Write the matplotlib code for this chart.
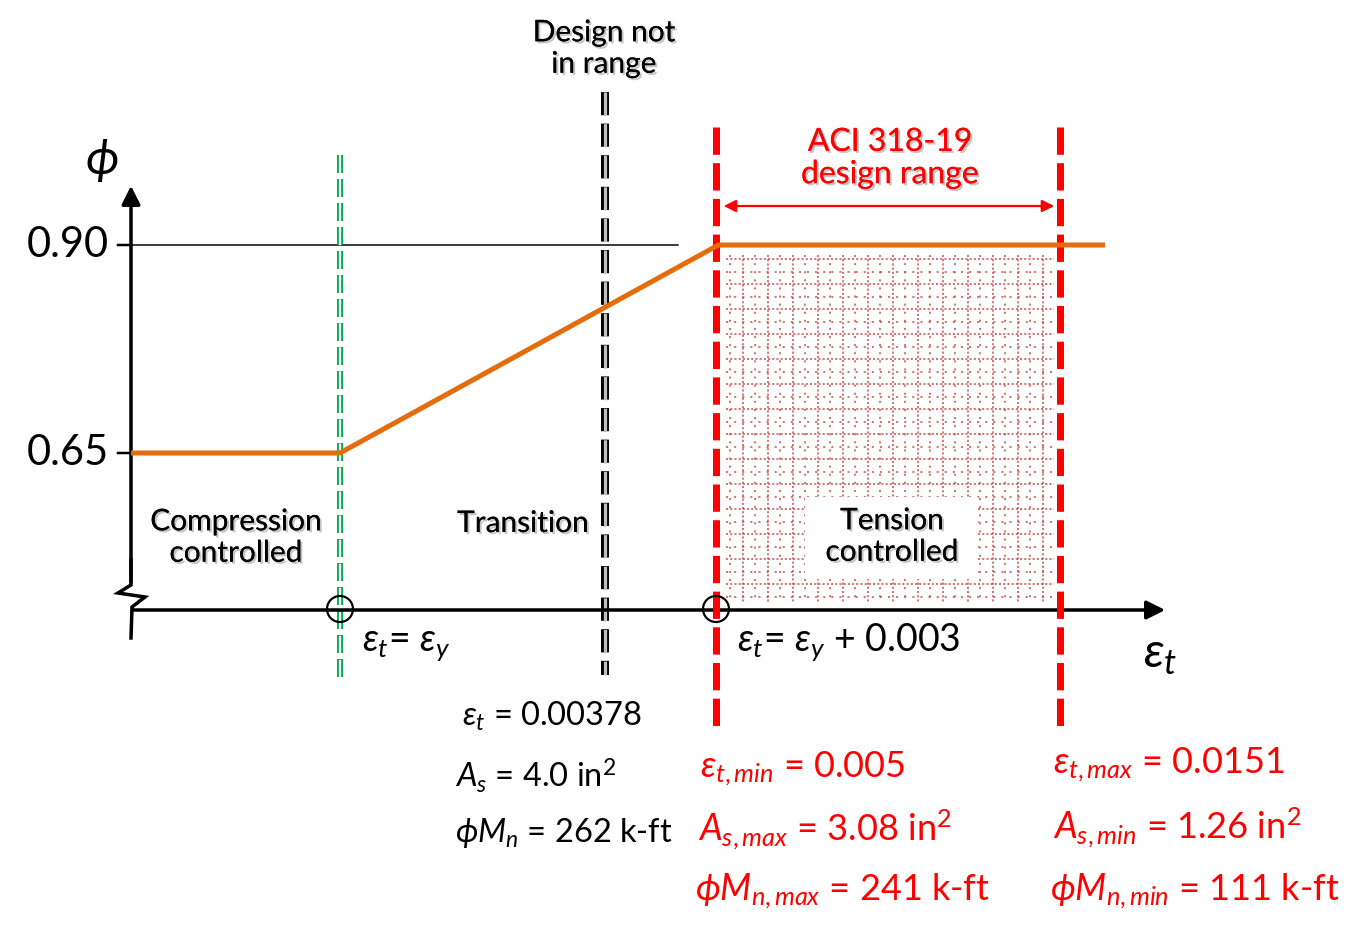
import numpy as np
import matplotlib.pyplot as plt
from matplotlib import patheffects as pe
from matplotlib.patches import FancyArrowPatch, Circle, Rectangle

plt.rcParams['font.family'] = ['Lato', 'DejaVu Sans']
plt.rcParams['mathtext.fontset'] = 'custom'
plt.rcParams['mathtext.rm'] = 'Lato'
plt.rcParams['mathtext.it'] = 'Lato:italic'
plt.rcParams['mathtext.fallback'] = 'stixsans'

# ---- data ----
phi_ticks = [0.65, 0.90]
phi_tick_labels = ['0.65', '0.90']
eps_y = 0.00207            # yield strain
eps_tc = eps_y + 0.003     # tension-controlled limit
eps_design = 0.00378       # design not in range
eps_min, eps_max = 0.005, 0.0151
eps_end = 0.0175
curve_eps = [0.0, eps_y, eps_tc, eps_end]
curve_phi = [0.65, 0.65, 0.90, 0.90]

# schematic (not to scale) strain axis
scale_eps = [0.0, eps_y, eps_design, eps_min, eps_max, eps_end]
scale_px = [131, 340, 605, 716, 1060, 1105]


def ex(e):
    return np.interp(e, scale_eps, scale_px)


def py(phi):
    return 245 + (0.90 - np.asarray(phi)) * 832


RED = '#FF0000'
ORANGE = '#E46C0A'
GREEN = '#00B050'
shadow = [pe.withSimplePatchShadow(offset=(1.5, -1.5), shadow_rgbFace='gray', alpha=0.45), pe.Normal()]

fig = plt.figure(figsize=(13.65, 9.39), dpi=100)
ax = fig.add_axes([0, 0, 1, 1])
ax.set_xlim(0, 1365)
ax.set_ylim(939, 0)
ax.axis('off')

px = 0.72  # points per pixel

# tension-controlled region texture (dotted square pattern)
x0, x1 = ex(eps_min) + 10, ex(eps_max) - 6
y0, y1 = py(0.90) + 10, 603
dense, sparse = (0, (1.4, 1.4)), (0, (1.4, 4.0))
for i, xv in enumerate(np.arange(x0 + 4, x1, 12.5)):
    ax.plot([xv, xv], [y0, y1], color='#C0504D', lw=1.5 * px, ls=dense if i % 2 else sparse, zorder=1)
for i, yv in enumerate(np.arange(y0 + 4, y1, 12.5)):
    ax.plot([x0, x1], [yv, yv], color='#C0504D', lw=1.5 * px, ls=dense if i % 2 == 0 else sparse, zorder=1)

# white box behind label
ax.add_patch(Rectangle((805, 497), 173, 82, facecolor='white', edgecolor='none', zorder=2))

# axes
ax.plot([131, 131, 118, 145, 132, 131], [560, 585, 593, 597, 607, 638], color='black', lw=3.5 * px,
        solid_joinstyle='miter', zorder=4)
ax.add_patch(FancyArrowPatch((131, 585), (131, 183), arrowstyle='-|>', mutation_scale=28,
                             color='black', lw=3.5 * px, zorder=4))
ax.add_patch(FancyArrowPatch((131, 610), (1168, 610), arrowstyle='-|>', mutation_scale=28,
                             color='black', lw=3.5 * px, zorder=4))

# phi ticks
ax.plot([131, 678], [py(0.90)] * 2, color='black', lw=1.5 * px, zorder=3)
for v, lab in zip(phi_ticks, phi_tick_labels):
    ax.plot([118, 131], [py(v)] * 2, color='black', lw=2.5 * px, zorder=3)
    ax.text(109, py(v), lab, ha='right', va='center', fontsize=30)

# vertical marker lines
ax.plot([ex(eps_y)] * 2, [155, 678], color=GREEN, lw=6 * px, ls=(0, (3.0, 1.0)), zorder=3)
ax.plot([ex(eps_y)] * 2, [155, 678], color='white', lw=2.2 * px, ls=(0, (8.2, 2.73)), zorder=3)
ax.plot([ex(eps_design)] * 2, [92, 675], color='black', lw=8 * px, ls=(0, (2.9, 1.05)), zorder=3)
ax.plot([ex(eps_design)] * 2, [92, 675], color='#BFBFBF', lw=3.2 * px, ls=(0, (7.25, 2.63)), zorder=3)
for e in (eps_min, eps_max):
    ax.plot([ex(e)] * 2, [127, 727], color=RED, lw=7 * px, ls=(0, (3.9, 1.2)), zorder=5)

# phi curve
ax.plot(ex(curve_eps), py(curve_phi), color=ORANGE, lw=5 * px, zorder=6, solid_capstyle='butt')

# circles on strain axis
for e in (eps_y, eps_min):
    ax.add_patch(Circle((ex(e), 609), 13, fill=False, edgecolor='black', lw=2.2 * px, zorder=7))

# design range arrow
ax.add_patch(FancyArrowPatch((ex(eps_min) + 5, 206), (ex(eps_max) - 3, 206), arrowstyle='<|-|>',
                             mutation_scale=18, color=RED, lw=2.2 * px, zorder=6))

# labels
ax.text(102, 160, r'$\phi$', ha='center', va='center', fontsize=35)
ax.text(1160, 655, r'$\varepsilon_t$', ha='center', va='center', fontsize=35)
ax.text(604, 48, 'Design not\nin range', ha='center', va='center', fontsize=21.5,
        linespacing=1.15, path_effects=shadow)
ax.text(890, 158, 'ACI 318-19\ndesign range', ha='center', va='center', fontsize=23, color=RED,
        linespacing=1.1, path_effects=shadow)
ax.text(236, 537, 'Compression\ncontrolled', ha='center', va='center', fontsize=21.5,
        linespacing=1.15, path_effects=shadow)
ax.text(523, 523, 'Transition', ha='center', va='center', fontsize=21.5, path_effects=shadow)
ax.text(892, 536, 'Tension\ncontrolled', ha='center', va='center', fontsize=21.5,
        linespacing=1.15, path_effects=shadow, zorder=3)

ax.text(362, 645, r'$\varepsilon_t$= $\varepsilon_y$', ha='left', va='center', fontsize=27)
ax.text(737, 642, r'$\varepsilon_t$= $\varepsilon_y$ + 0.003', ha='left', va='center', fontsize=27)

ax.text(462, 716, r'$\varepsilon_t$ = 0.00378', ha='left', va='center', fontsize=23.5)
ax.text(455, 776, r'$A_s$ = 4.0 in$^2$', ha='left', va='center', fontsize=23.5)
ax.text(455, 833, r'$\phi M_n$ = 262 k-ft', ha='left', va='center', fontsize=23.5)

ax.text(700, 769, r'$\varepsilon_{t,min}$ = 0.005', ha='left', va='center', fontsize=26, color=RED)
ax.text(698, 830, r'$A_{s,max}$ = 3.08 in$^2$', ha='left', va='center', fontsize=26, color=RED)
ax.text(695, 892, r'$\phi M_{n,max}$ = 241 k-ft', ha='left', va='center', fontsize=26, color=RED)
ax.text(1053, 765, r'$\varepsilon_{t,max}$ = 0.0151', ha='left', va='center', fontsize=26, color=RED)
ax.text(1053, 828, r'$A_{s,min}$ = 1.26 in$^2$', ha='left', va='center', fontsize=26, color=RED)
ax.text(1050, 892, r'$\phi M_{n,min}$ = 111 k-ft', ha='left', va='center', fontsize=26, color=RED)

fig.savefig('out.png', dpi=100)
